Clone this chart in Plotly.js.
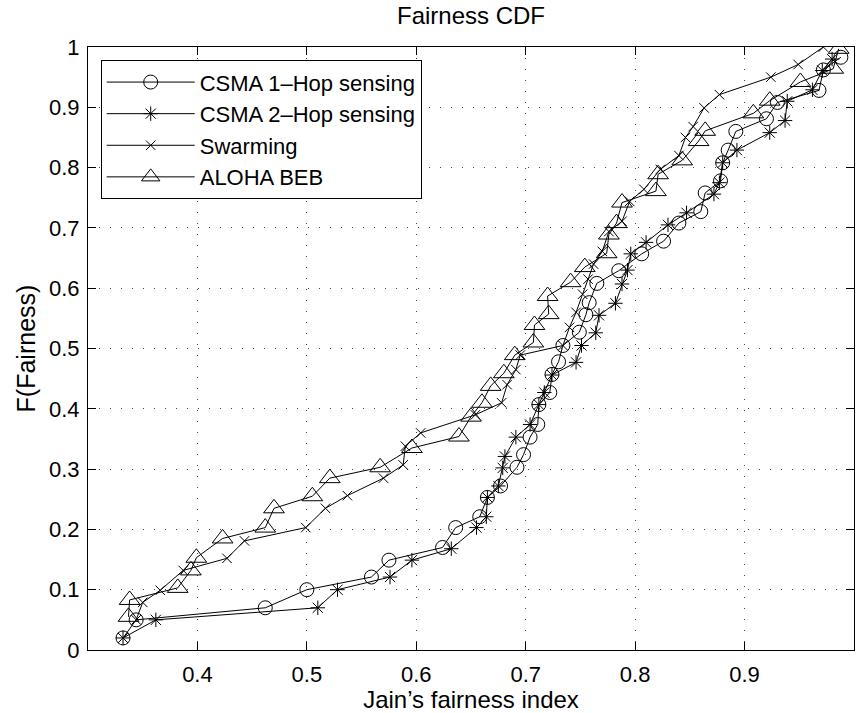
<!DOCTYPE html>
<html>
<head>
<meta charset="utf-8">
<script src="https://cdn.plot.ly/plotly-3.0.1.min.js"></script>
<style>
  html, body { margin: 0; padding: 0; background: #fff; }
  #chart { width: 856px; height: 713px; }
</style>
</head>
<body>
<div id="chart"></div>
<script>
// ---- data ----
const seriesNames = ["CSMA 1\u2013Hop sensing", "CSMA 2\u2013Hop sensing", "Swarming", "ALOHA BEB"];

const csma1X = [0.332,0.344,0.462,0.500,0.559,0.575,0.624,0.636,0.658,0.665,0.677,0.692,0.698,0.704,0.711,0.712,0.722,0.724,0.730,0.734,0.749,0.755,0.758,0.765,0.785,0.806,0.826,0.840,0.860,0.864,0.878,0.880,0.885,0.892,0.920,0.930,0.968,0.972,0.988];
const csma1Y = [0.020,0.050,0.070,0.100,0.121,0.149,0.170,0.203,0.221,0.253,0.272,0.303,0.324,0.353,0.374,0.407,0.427,0.457,0.478,0.505,0.527,0.556,0.576,0.608,0.629,0.657,0.678,0.708,0.727,0.758,0.778,0.808,0.829,0.860,0.881,0.908,0.928,0.962,0.983];

const csma2X = [0.332,0.362,0.510,0.528,0.576,0.596,0.632,0.655,0.664,0.665,0.675,0.679,0.681,0.691,0.704,0.712,0.717,0.724,0.746,0.751,0.764,0.767,0.782,0.788,0.793,0.796,0.810,0.830,0.847,0.872,0.877,0.880,0.893,0.923,0.937,0.939,0.962,0.971,0.980];
const csma2Y = [0.020,0.050,0.070,0.100,0.121,0.149,0.168,0.203,0.221,0.253,0.272,0.302,0.321,0.353,0.374,0.407,0.427,0.456,0.477,0.505,0.526,0.555,0.575,0.607,0.630,0.657,0.676,0.705,0.725,0.756,0.775,0.808,0.829,0.858,0.878,0.910,0.929,0.961,0.980];

const swarmX = [0.344,0.350,0.366,0.387,0.427,0.443,0.499,0.517,0.537,0.570,0.588,0.590,0.604,0.654,0.678,0.683,0.691,0.695,0.734,0.740,0.746,0.752,0.757,0.762,0.770,0.776,0.788,0.795,0.808,0.823,0.840,0.846,0.853,0.863,0.877,0.924,0.949,0.972];
const swarmY = [0.050,0.079,0.099,0.132,0.152,0.181,0.203,0.235,0.256,0.285,0.307,0.338,0.360,0.390,0.410,0.440,0.465,0.489,0.505,0.535,0.560,0.590,0.615,0.640,0.661,0.694,0.711,0.744,0.764,0.797,0.820,0.850,0.868,0.899,0.921,0.950,0.971,1.000];

const alohaX = [0.337,0.338,0.382,0.394,0.399,0.423,0.462,0.470,0.505,0.521,0.567,0.596,0.639,0.650,0.660,0.668,0.680,0.690,0.707,0.708,0.721,0.720,0.741,0.754,0.774,0.776,0.783,0.788,0.819,0.821,0.843,0.858,0.864,0.908,0.923,0.951,0.981,0.986];
const alohaY = [0.055,0.083,0.103,0.132,0.153,0.185,0.203,0.235,0.255,0.285,0.303,0.335,0.354,0.387,0.410,0.438,0.459,0.489,0.510,0.539,0.557,0.587,0.610,0.635,0.658,0.689,0.708,0.742,0.761,0.789,0.812,0.844,0.861,0.890,0.911,0.942,0.964,0.997];

const xTicks = [0.4,0.5,0.6,0.7,0.8,0.9,1.0];
const xTickText = ["0.4","0.5","0.6","0.7","0.8","0.9","1"];
const yTicks = [0,0.1,0.2,0.3,0.4,0.5,0.6,0.7,0.8,0.9,1];
const yTickText = ["0","0.1","0.2","0.3","0.4","0.5","0.6","0.7","0.8","0.9","1"];

// ---- styling ----
const FONT = "'Liberation Sans', Arial, Helvetica, sans-serif";
const lineStyle = {color: "#000", width: 1};

function mk(x, y, name, symbol, size) {
  return {
    x: x, y: y, name: name, type: "scatter", mode: "lines+markers",
    line: lineStyle,
    marker: {symbol: symbol, size: size, color: "#000", line: {color: "#000", width: 1}}
  };
}

const traces = [
  mk(csma1X, csma1Y, seriesNames[0], "circle-open", 14),
  mk(csma2X, csma2Y, seriesNames[1], "asterisk-open", 12),
  mk(swarmX, swarmY, seriesNames[2], "x-thin-open", 9.5),
  mk(alohaX, alohaY, seriesNames[3], "triangle-up-open", 18)
];

const axisCommon = {
  showline: true, linecolor: "#000", linewidth: 1, mirror: "ticks",
  ticks: "inside", ticklen: 8, tickcolor: "#000", tickwidth: 1,
  showgrid: true, gridcolor: "#444", gridwidth: 1, griddash: "1px,10px",
  zeroline: false, tickfont: {family: FONT, size: 22, color: "#000"}
};

const layout = {
  width: 856, height: 713,
  margin: {l: 88, r: 2, t: 47, b: 63, pad: 0},
  paper_bgcolor: "#fff", plot_bgcolor: "#fff",
  font: {family: FONT, size: 22, color: "#000"},
  title: {text: "Fairness CDF", font: {family: FONT, size: 24, color: "#000"},
          xref: "paper", x: 0.5, xanchor: "center", yref: "container", y: 0.978, yanchor: "middle"},
  xaxis: Object.assign({}, axisCommon, {
    range: [0.3, 1.0], tickmode: "array", tickvals: xTicks, ticktext: xTickText,
    ticklabelstandoff: 5,
    title: {text: "Jain\u2019s fairness index", font: {family: FONT, size: 24, color: "#000"}, standoff: 7}
  }),
  yaxis: Object.assign({}, axisCommon, {
    range: [0, 1], tickmode: "array", tickvals: yTicks, ticktext: yTickText,
    ticklabelstandoff: 3,
    title: {text: "F(Fairness)", font: {family: FONT, size: 25, color: "#000"}, standoff: 6}
  }),
  showlegend: true,
  legend: {
    x: 0.0166, y: 0.978, xanchor: "left", yanchor: "top",
    bgcolor: "#fff", bordercolor: "#000", borderwidth: 1,
    font: {family: FONT, size: 22, color: "#000"},
    itemwidth: 88, tracegroupgap: 0, traceorder: "normal"
  }
};

Plotly.newPlot("chart", traces, layout, {displayModeBar: false, staticPlot: true});
</script>
</body>
</html>
